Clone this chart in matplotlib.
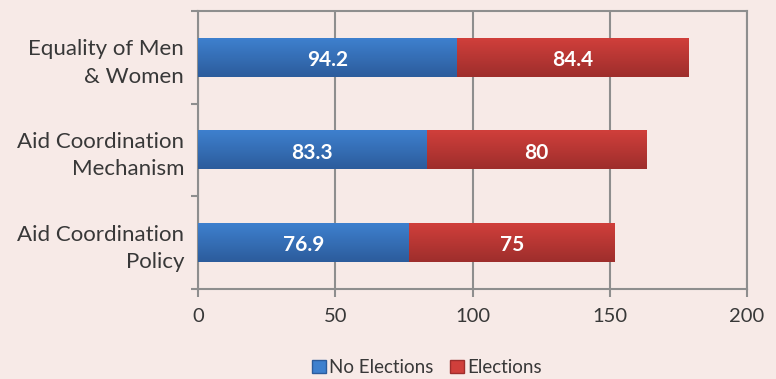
import numpy as np
import matplotlib.pyplot as plt
from matplotlib.colors import LinearSegmentedColormap
from matplotlib.patches import Patch

categories = ["Equality of Men\n& Women", "Aid Coordination\nMechanism", "Aid Coordination\nPolicy"]
no_elections = [94.2, 83.3, 76.9]
elections = [84.4, 80, 75]
series_names = ["No Elections", "Elections"]

bg = "#F7EAE7"
grid_col = "#8E8E8E"
text_col = "#383838"
blue_top, blue_bot = "#3E80CE", "#2C5C9C"
red_top, red_bot = "#D03F3B", "#9E2E2C"

plt.rcParams['font.family'] = ['Lato', 'DejaVu Sans']

fig = plt.figure(figsize=(7.76, 3.79), dpi=100, facecolor=bg)
ax = fig.add_axes([0.2552, 0.2375, 0.7074, 0.7335], facecolor=bg)

ypos = np.arange(len(categories))[::-1]
height = 0.42


def grad_bar(y, left, width, top, bot):
    cmap = LinearSegmentedColormap.from_list("g", [bot, top])
    grad = np.linspace(0, 1, 64).reshape(-1, 1)
    ax.imshow(grad, cmap=cmap, origin="lower", aspect="auto",
              extent=(left, left + width, y - height / 2, y + height / 2),
              zorder=3, interpolation="bicubic")


for y, a, b in zip(ypos, no_elections, elections):
    grad_bar(y, 0, a, blue_top, blue_bot)
    grad_bar(y, a, b, red_top, red_bot)
    ax.text(a / 2, y - 0.03, f"{a:g}", ha="center", va="center", color="white",
            fontsize=15, fontweight="bold", zorder=4)
    ax.text(a + b / 2, y - 0.03, f"{b:g}", ha="center", va="center", color="white",
            fontsize=15, fontweight="bold", zorder=4)

ax.set_xlim(0, 200)
ax.set_ylim(-0.5, 2.5)
ax.set_xticks([0, 50, 100, 150, 200])
ax.set_yticks(ypos)
ax.set_yticklabels(categories, fontsize=16, color=text_col, linespacing=1.45)
ax.set_yticks([-0.5, 0.5, 1.5, 2.5], minor=True)
ax.tick_params(axis="y", which="major", length=0, pad=10)
ax.tick_params(axis="y", which="minor", length=5, color=grid_col, width=1.5)
ax.tick_params(axis="x", length=6, color=grid_col, width=1.5, labelsize=14.5,
               labelcolor=text_col, pad=8)
ax.grid(axis="x", color=grid_col, linewidth=1.5, zorder=1)
ax.set_axisbelow(True)
for s in ax.spines.values():
    s.set_color(grid_col)
    s.set_linewidth(1.5)

handles = [Patch(facecolor=blue_top, edgecolor=blue_bot),
           Patch(facecolor=red_top, edgecolor=red_bot)]
fig.legend(handles, series_names, loc="center", bbox_to_anchor=(0.55, 0.03),
           ncol=2, frameon=False, fontsize=13.5, handlelength=0.75, handleheight=0.75,
           handletextpad=0.15, columnspacing=0.9, labelcolor=text_col)

fig.savefig("out.png", dpi=100, facecolor=bg)
